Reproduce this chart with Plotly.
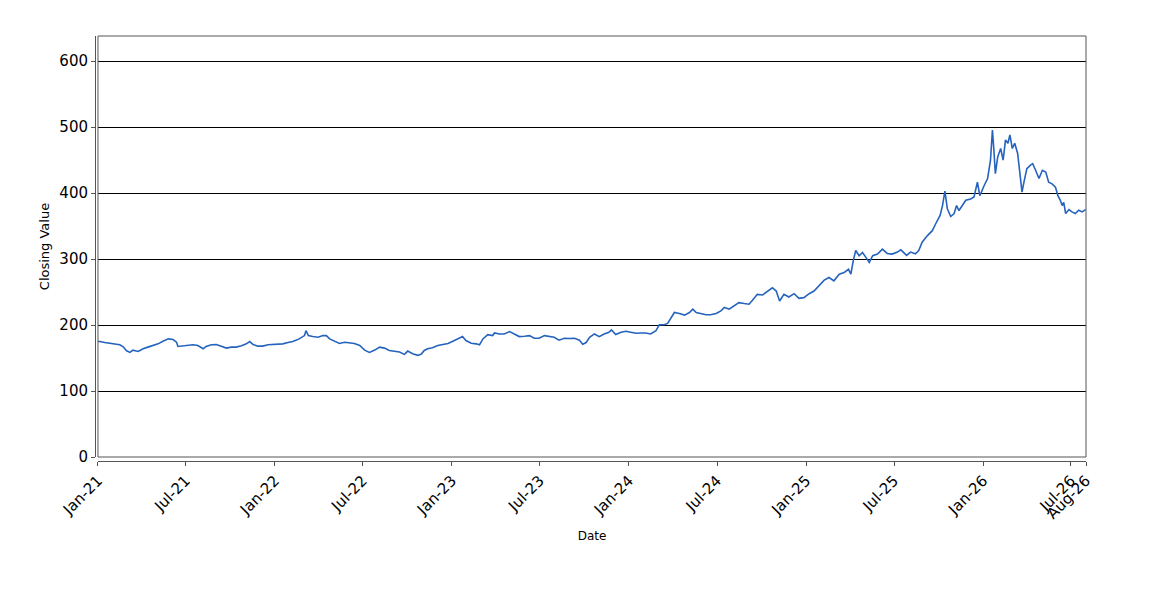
import pandas as pd
import plotly.graph_objects as go

# closing values
dates = [
    "2021-01-01", "2021-01-05", "2021-01-15", "2021-01-25", "2021-02-05", "2021-02-15", "2021-02-22",
    "2021-03-01", "2021-03-08", "2021-03-14", "2021-03-25", "2021-04-04", "2021-04-14", "2021-04-25",
    "2021-05-05", "2021-05-15", "2021-05-26", "2021-06-05", "2021-06-12", "2021-06-15", "2021-06-25",
    "2021-07-06", "2021-07-16", "2021-07-26", "2021-08-06", "2021-08-12", "2021-08-23", "2021-09-02",
    "2021-09-12", "2021-09-23", "2021-10-03", "2021-10-13", "2021-10-24", "2021-11-03", "2021-11-10",
    "2021-11-17", "2021-11-27", "2021-12-07", "2021-12-18", "2021-12-28", "2022-01-07", "2022-01-17",
    "2022-01-28", "2022-02-07", "2022-02-20", "2022-03-03", "2022-03-06", "2022-03-11", "2022-03-20",
    "2022-03-31", "2022-04-10", "2022-04-17", "2022-04-24", "2022-05-04", "2022-05-14", "2022-05-25",
    "2022-06-04", "2022-06-14", "2022-06-25", "2022-07-05", "2022-07-15", "2022-07-26", "2022-08-05",
    "2022-08-15", "2022-08-25", "2022-09-05", "2022-09-15", "2022-09-25", "2022-10-02", "2022-10-12",
    "2022-10-23", "2022-10-30", "2022-11-05", "2022-11-12", "2022-11-22", "2022-12-03", "2022-12-13",
    "2022-12-24", "2023-01-03", "2023-01-13", "2023-01-23", "2023-01-30", "2023-02-10", "2023-02-20",
    "2023-02-27", "2023-03-06", "2023-03-16", "2023-03-26", "2023-03-30", "2023-04-09", "2023-04-19",
    "2023-04-30", "2023-05-10", "2023-05-20", "2023-05-31", "2023-06-10", "2023-06-20", "2023-06-30",
    "2023-07-11", "2023-07-21", "2023-07-31", "2023-08-10", "2023-08-21", "2023-08-31", "2023-09-11",
    "2023-09-21", "2023-09-28", "2023-10-05", "2023-10-12", "2023-10-22", "2023-11-01", "2023-11-11",
    "2023-11-21", "2023-11-26", "2023-12-05", "2023-12-16", "2023-12-26", "2024-01-05", "2024-01-16",
    "2024-01-26", "2024-02-05", "2024-02-15", "2024-02-26", "2024-03-04", "2024-03-14", "2024-03-21",
    "2024-03-28", "2024-04-04", "2024-04-14", "2024-04-25", "2024-05-05", "2024-05-12", "2024-05-19",
    "2024-05-29", "2024-06-08", "2024-06-18", "2024-06-29", "2024-07-09", "2024-07-16", "2024-07-26",
    "2024-08-05", "2024-08-15", "2024-08-26", "2024-09-05", "2024-09-12", "2024-09-22", "2024-10-03",
    "2024-10-13", "2024-10-23", "2024-10-31", "2024-11-07", "2024-11-16", "2024-11-26", "2024-12-07",
    "2024-12-17", "2024-12-27", "2025-01-07", "2025-01-17", "2025-01-27", "2025-02-07", "2025-02-17",
    "2025-02-27", "2025-03-10", "2025-03-20", "2025-03-29", "2025-04-03", "2025-04-08", "2025-04-13",
    "2025-04-20", "2025-04-27", "2025-05-04", "2025-05-11", "2025-05-18", "2025-05-28", "2025-06-07",
    "2025-06-17", "2025-06-27", "2025-07-08", "2025-07-15", "2025-07-22", "2025-07-27", "2025-08-04",
    "2025-08-14", "2025-08-21", "2025-08-28", "2025-09-08", "2025-09-18", "2025-09-25", "2025-10-04",
    "2025-10-09", "2025-10-14", "2025-10-19", "2025-10-26", "2025-11-02", "2025-11-07", "2025-11-12",
    "2025-11-19", "2025-11-26", "2025-12-06", "2025-12-13", "2025-12-20", "2025-12-25", "2026-01-03",
    "2026-01-10", "2026-01-16", "2026-01-20", "2026-01-23", "2026-01-26", "2026-01-31", "2026-02-06",
    "2026-02-11", "2026-02-16", "2026-02-21", "2026-02-25", "2026-03-02", "2026-03-07", "2026-03-13",
    "2026-03-17", "2026-03-22", "2026-03-26", "2026-04-01", "2026-04-08", "2026-04-13", "2026-04-19",
    "2026-04-26", "2026-05-03", "2026-05-10", "2026-05-16", "2026-05-23", "2026-05-30", "2026-06-04",
    "2026-06-09", "2026-06-13", "2026-06-16", "2026-06-20", "2026-06-27", "2026-07-03", "2026-07-10",
    "2026-07-17", "2026-07-24", "2026-07-31",
]
closing = [
    175, 175, 173.5, 172.5, 172, 170, 167,
    161, 158.5, 162, 160, 164, 166.5, 168.5,
    171.5, 175.5, 179, 178, 174, 167.5, 168.5,
    170, 170, 169, 164, 167.5, 170, 170.5,
    167.5, 165, 166.5, 166.5, 168.5, 171.5, 175,
    170.5, 168, 168, 170, 170.5, 171.5, 171.5,
    173.5, 175, 179, 184, 191.5, 184, 182.5,
    181.5, 184, 184, 179, 175, 172, 174,
    173, 172, 169, 162, 158.5, 162, 166.5,
    165, 161.5, 160.5, 159, 155.5, 160.5, 156.5,
    154, 156, 161.5, 164, 165.5, 169, 170,
    172, 175.5, 179, 182.5, 176.5, 172.5, 171.5,
    170, 179, 185.5, 184, 188, 186.5, 186.5,
    190, 186.5, 182.5, 183, 184, 180, 180,
    184, 182.5, 181.5, 177, 180, 179.5, 180,
    177, 171, 173.5, 181.5, 186.5, 182.5, 186.5,
    189, 192.5, 185.5, 189, 190.5, 189, 187.5,
    188, 188, 186.5, 191.5, 200.5, 200.5, 202.5,
    211.5, 219, 217.5, 215, 219, 224, 219,
    217.5, 215.5, 215.5, 217.5, 221.5, 226.5, 224,
    229, 234, 232.5, 231.5, 237.5, 246.5, 245.5,
    251.5, 256.5, 251.5, 236.5, 246.5, 242.5, 247.5,
    240.5, 241.5, 247.5, 251.5, 259, 268, 272,
    267, 277, 279.5, 284.5, 277, 297.5, 313,
    305, 310, 302.5, 295, 305, 307.5, 315,
    308.5, 307.5, 310.5, 314, 309, 305.5, 310.5,
    308, 313, 325.5, 335.5, 343, 353.5, 366,
    381, 403, 376, 364.5, 369, 381, 373.5,
    381, 389, 391, 394, 416.5, 396, 411.5,
    422, 450, 495.5, 465, 429.5, 455, 467.5,
    450, 480.5, 475.5, 488, 467.5, 475.5, 460,
    429.5, 401.5, 416.5, 437, 442, 444.5, 434.5,
    422, 434.5, 432, 416.5, 414, 409, 396,
    389, 381, 386, 369, 375, 371.5, 369,
    374, 371.5, 375,
]

tick_dates = ["2021-01-01", "2021-07-01", "2022-01-01", "2022-07-01", "2023-01-01", "2023-07-01",
              "2024-01-01", "2024-07-01", "2025-01-01", "2025-07-01", "2026-01-01", "2026-07-01",
              "2026-08-01"]
tick_labels = ["Jan-21", "Jul-21", "Jan-22", "Jul-22", "Jan-23", "Jul-23", "Jan-24", "Jul-24",
               "Jan-25", "Jul-25", "Jan-26", "Jul-26", "Aug-26"]

df = pd.DataFrame({"Date": pd.to_datetime(dates), "Close": closing})

fig = go.Figure()
fig.add_trace(go.Scatter(x=df["Date"], y=df["Close"], mode="lines",
                         line=dict(color="#2563be", width=1.6), showlegend=False))

# frame around the plot area
fig.add_shape(type="rect", xref="x domain", yref="y domain", x0=0, x1=1, y0=0, y1=1,
              line=dict(color="#555555", width=1))

fig.update_layout(
    width=1150, height=600,
    margin=dict(l=87, r=72, t=28, b=147),
    plot_bgcolor="white", paper_bgcolor="white",
    font=dict(family="DejaVu Sans", color="black"),
    xaxis=dict(
        domain=[0.003, 1], anchor="free", position=0,
        range=["2021-01-01", "2026-08-01"],
        tickvals=tick_dates, ticktext=tick_labels, tickangle=-45,
        tickfont=dict(size=15), ticks="outside", ticklen=4, tickcolor="#555555",
        showline=True, linecolor="#555555", showgrid=False, zeroline=False,
        title=dict(text="Date", font=dict(size=12), standoff=9),
    ),
    yaxis=dict(
        domain=[0.0094, 1], anchor="free", position=0,
        range=[0, 638], tickvals=[0, 100, 200, 300, 400, 500, 600],
        tickfont=dict(size=15), ticks="outside", ticklen=4, tickcolor="#555555",
        showline=True, linecolor="#555555", showgrid=True, gridcolor="black", gridwidth=1,
        zeroline=False,
        title=dict(text="Closing Value", font=dict(size=13), standoff=5),
    ),
)

fig.write_html("out.html")
